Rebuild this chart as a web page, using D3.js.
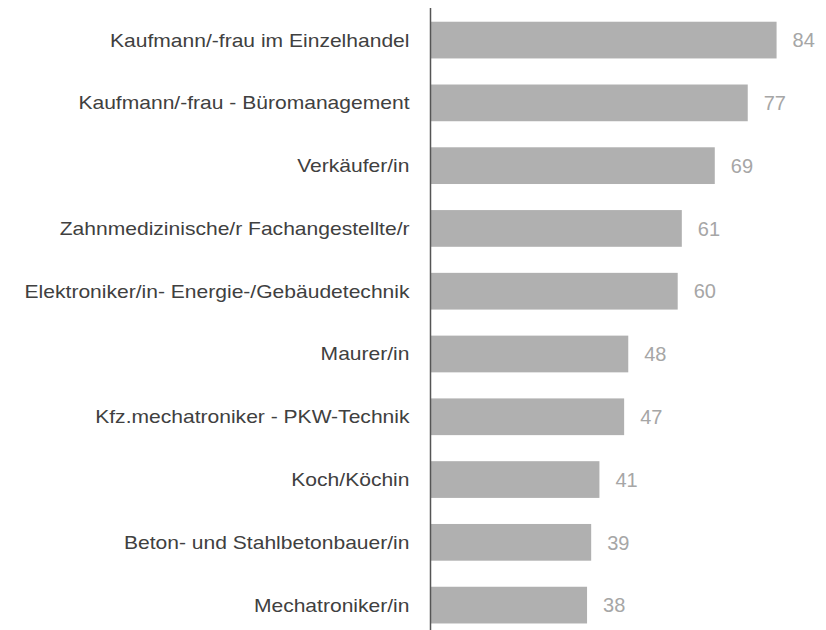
<!DOCTYPE html>
<html><head><meta charset="utf-8">
<script src="https://cdn.jsdelivr.net/npm/d3@7"></script>
<style>body{margin:0;background:#fff;} text{font-family:"Liberation Sans",Arial,sans-serif;}</style>
</head><body>
<svg id="chart" width="826" height="630"></svg>
<script>
const categories = ["Kaufmann/-frau im Einzelhandel","Kaufmann/-frau - Büromanagement","Verkäufer/in","Zahnmedizinische/r Fachangestellte/r","Elektroniker/in- Energie-/Gebäudetechnik","Maurer/in","Kfz.mechatroniker - PKW-Technik","Koch/Köchin","Beton- und Stahlbetonbauer/in","Mechatroniker/in"];
const values = [84,77,69,61,60,48,47,41,39,38];

const svg = d3.select("#chart");
const x0 = 430.5;
const x = d3.scaleLinear().domain([0,100]).range([x0, x0 + 412]);
const y = d3.scaleBand().domain(categories).range([8.7, 8.7 + 10*62.78]).paddingInner(0.415).paddingOuter(0.2075);

svg.selectAll("rect.bar").data(categories).join("rect")
  .attr("class","bar")
  .attr("x", x(0))
  .attr("y", d => y(d))
  .attr("width", (d,i) => x(values[i]) - x(0))
  .attr("height", y.bandwidth())
  .attr("fill", "#b0b0b0");

svg.selectAll("text.val").data(categories).join("text")
  .attr("class","val")
  .attr("x", (d,i) => x(values[i]) + 16)
  .attr("y", d => y(d) + y.bandwidth()/2)
  .attr("dy", "0.36em")
  .attr("font-size", 20)
  .attr("fill", "#a6a6a6")
  .text((d,i) => values[i]);

const sx = 1.17;
const yAxis = d3.axisLeft(y).tickSize(0).tickPadding(21);
const g = svg.append("g").attr("transform", `translate(${x0},0)`).call(yAxis);
g.select(".domain").remove();
g.selectAll("text").attr("font-size", 18).attr("fill", "#404040").attr("dy", "0.36em")
  .attr("x", -21 / sx).attr("transform", `scale(${sx},1)`);
svg.append("line").attr("x1", x0).attr("x2", x0).attr("y1", 8).attr("y2", 630)
  .attr("stroke", "#555").attr("stroke-width", 1.5);
</script>
</body></html>
